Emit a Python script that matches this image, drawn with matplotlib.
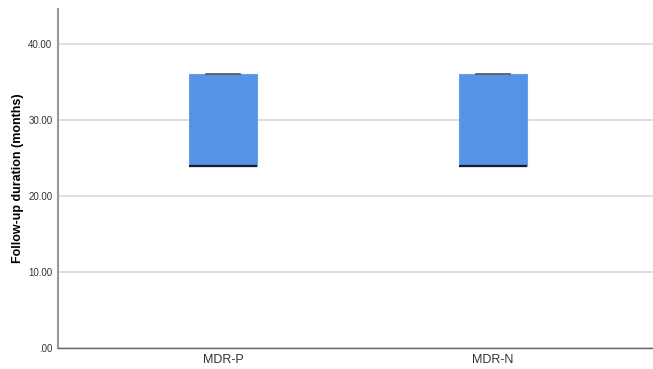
import matplotlib
matplotlib.use("Agg")
import matplotlib.pyplot as plt

plt.rcParams["font.family"] = ["Liberation Sans", "DejaVu Sans"]

categories = ["MDR-P", "MDR-N"]
whislo = [24.0, 24.0]
q1 = [24.0, 24.0]
med = [24.0, 24.0]
q3 = [36.0, 36.0]
whishi = [36.0, 36.0]
yticks = [0, 10, 20, 30, 40]
yticklabels = [".00", "10.00", "20.00", "30.00", "40.00"]

fig = plt.figure(figsize=(6.53, 3.69), dpi=100)
ax = fig.add_axes([0.0888, 0.0569, 0.9112, 0.9187])

stats = []
for i, c in enumerate(categories):
    stats.append(dict(label=c, whislo=whislo[i], q1=q1[i], med=med[i], q3=q3[i], whishi=whishi[i], fliers=[]))

ax.bxp(stats, positions=[0, 1], widths=0.252, patch_artist=True, showfliers=False,
       boxprops=dict(facecolor="#5593E6", edgecolor="#6A9FE8", linewidth=0.8),
       medianprops=dict(color="#1a1a2a", linewidth=1.6),
       whiskerprops=dict(color="#333333", linewidth=0.8),
       capprops=dict(color="#555555", linewidth=1.2),
       capwidths=0.126, zorder=3)

ax.set_xlim(-0.611, 1.593)
ax.set_ylim(0, 44.6)
ax.set_yticks(yticks)
ax.set_yticklabels(yticklabels, fontsize=7, color="#333333")
ax.set_xticks([0, 1])
ax.set_xticklabels(categories, fontsize=9, color="#333333")
ax.tick_params(length=0, pad=4)
ax.yaxis.grid(True, color="#D9D9D9", linewidth=1.2, zorder=0)
ax.set_axisbelow(True)
for s in ["top", "right"]:
    ax.spines[s].set_visible(False)
ax.spines["left"].set_color("#999999")
ax.spines["left"].set_linewidth(1.5)
ax.spines["bottom"].set_color("#666666")
ax.spines["bottom"].set_linewidth(1.0)
ax.set_ylabel("Follow-up duration (months)", fontsize=9, fontweight="bold", labelpad=3)

fig.savefig("out.png", dpi=100)
